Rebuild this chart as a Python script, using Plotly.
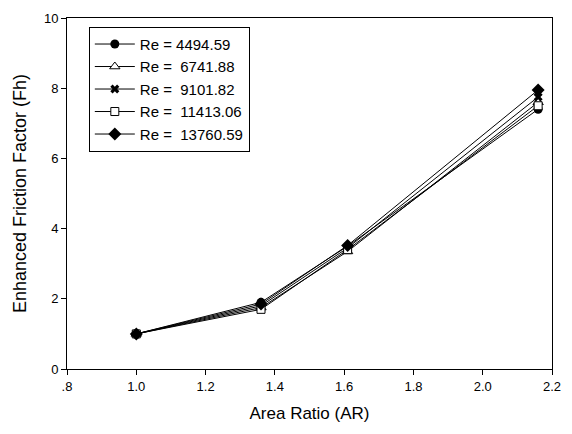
import plotly.graph_objects as go

area_ratio = [1.0, 1.36, 1.61, 2.16]
re_labels = ["Re = 4494.59", "Re =\u00a0 6741.88", "Re =\u00a0 9101.82", "Re =\u00a0 11413.06", "Re =\u00a0 13760.59"]
fh_4494 = [1.0, 1.90, 3.50, 7.40]
fh_6741 = [1.0, 1.75, 3.35, 7.60]
fh_9101 = [1.0, 1.80, 3.45, 7.75]
fh_11413 = [1.0, 1.70, 3.40, 7.50]
fh_13760 = [1.0, 1.85, 3.52, 7.95]
x_tickvals = [0.8, 1.0, 1.2, 1.4, 1.6, 1.8, 2.0, 2.2]
x_ticktext = [".8", "1.0", "1.2", "1.4", "1.6", "1.8", "2.0", "2.2"]
y_tickvals = [0, 2, 4, 6, 8, 10]

series = [fh_4494, fh_6741, fh_9101, fh_11413, fh_13760]
markers = [
    dict(symbol="circle", size=9, color="black"),
    dict(symbol="triangle-up", size=9, color="white", line=dict(color="black", width=1)),
    dict(symbol="x", size=8, color="black", line=dict(color="white", width=0)),
    dict(symbol="square", size=8, color="white", line=dict(color="black", width=1)),
    dict(symbol="diamond", size=10, color="black"),
]

fig = go.Figure()
for name, ys, mk in zip(re_labels, series, markers):
    fig.add_trace(go.Scatter(x=area_ratio, y=ys, mode="lines+markers", name=name,
                             line=dict(color="black", width=1), marker=mk))

axis_common = dict(showline=True, linecolor="black", linewidth=1, mirror=True,
                   showgrid=False, zeroline=False, ticks="outside", ticklen=5,
                   tickcolor="black", tickfont=dict(size=13, color="black"))
fig.update_xaxes(range=[0.8, 2.2], tickvals=x_tickvals, ticktext=x_ticktext,
                 title=dict(text="Area Ratio (AR)", font=dict(size=17, color="black"), standoff=14),
                 **axis_common)
fig.update_yaxes(range=[0, 10], tickvals=y_tickvals,
                 title=dict(text="Enhanced Friction Factor (Fh)", font=dict(size=18, color="black"), standoff=12),
                 **axis_common)
fig.update_layout(
    width=572, height=434,
    margin=dict(l=67, r=11, t=13, b=65),
    paper_bgcolor="white", plot_bgcolor="white",
    font=dict(family="Liberation Sans, Arial, sans-serif", color="black"),
    legend=dict(x=0.045, y=0.975, xanchor="left", yanchor="top",
                bordercolor="black", borderwidth=1, bgcolor="white",
                font=dict(size=15, color="black"), tracegroupgap=0, itemwidth=40),
)
fig.write_html("out.html")
